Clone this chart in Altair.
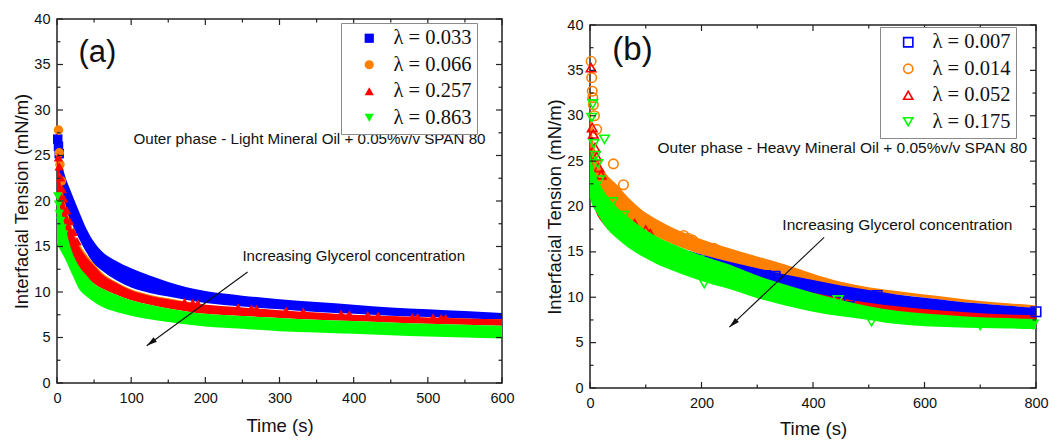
import altair as alt
import pandas as pd

SANS = "Liberation Sans"
SERIF = "Liberation Serif"

# ---------------- shared axis ticks ----------------
Y_MAJOR = [0, 5, 10, 15, 20, 25, 30, 35, 40]
Y_MINOR = [2.5, 7.5, 12.5, 17.5, 22.5, 27.5, 32.5, 37.5]

# ---------------- Panel (a): light mineral oil ----------------
A_LABELS = ["λ = 0.033", "λ = 0.066", "λ = 0.257", "λ = 0.863"]
A_COLORS = ["#0000ff", "#ff8000", "#ff0000", "#00ff00"]
A_SHAPES = ["square", "circle", "triangle-up", "triangle-down"]
A_X_MAJOR = [0, 100, 200, 300, 400, 500, 600]
A_X_MINOR = [50, 150, 250, 350, 450, 550]

A_T = [0, 5, 10, 20, 30, 40, 50, 60, 80, 100, 125, 150, 200, 250, 300, 350, 400, 450, 500, 550, 600]
A_BLUE_HI = [26.5, 24.5, 23.0, 20.8, 18.8, 16.9, 15.5, 14.5, 13.4, 12.6, 11.8, 11.1, 10.1, 9.6, 9.2, 8.9, 8.6, 8.3, 8.1, 7.9, 7.7]
A_BLUE_LO = [22.5, 21.0, 19.5, 17.5, 15.8, 14.3, 13.1, 12.4, 11.3, 10.5, 9.9, 9.5, 8.8, 8.4, 8.1, 7.8, 7.6, 7.4, 7.25, 7.1, 7.0]
A_ORANGE_HI = [25.3, 22.2, 20.2, 17.2, 15.3, 14.1, 13.1, 12.2, 11.1, 10.3, 9.7, 9.3, 8.6, 8.25, 7.95, 7.7, 7.45, 7.3, 7.15, 7.05, 6.95]
A_ORANGE_LO = [21.0, 19.0, 17.0, 14.5, 13.0, 12.0, 11.3, 10.8, 10.1, 9.5, 9.0, 8.6, 8.0, 7.7, 7.5, 7.3, 7.15, 7.0, 6.85, 6.75, 6.65]
A_RED_HI = [25.5, 21.8, 19.8, 16.8, 15.0, 13.8, 12.9, 12.0, 11.0, 10.2, 9.6, 9.2, 8.6, 8.3, 8.0, 7.75, 7.5, 7.35, 7.2, 7.1, 7.0]
A_RED_LO = [20.0, 18.5, 16.5, 14.0, 12.5, 11.6, 10.9, 10.4, 9.7, 9.1, 8.6, 8.2, 7.6, 7.35, 7.15, 6.95, 6.8, 6.65, 6.5, 6.4, 6.3]
A_GREEN_HI = [20.8, 19.0, 17.5, 14.5, 12.8, 11.8, 10.9, 10.4, 9.7, 9.1, 8.6, 8.2, 7.6, 7.35, 7.15, 6.95, 6.8, 6.65, 6.5, 6.4, 6.3]
A_GREEN_LO = [15.3, 14.5, 13.8, 12.0, 10.3, 9.5, 8.9, 8.4, 7.8, 7.4, 7.0, 6.7, 6.2, 5.95, 5.7, 5.55, 5.4, 5.25, 5.1, 5.0, 4.9]

# individual markers visible outside the dense bands
A_BLUE_PT_T = [1, 2, 3]
A_BLUE_PT_Y = [26.8, 26.0, 25.2]
A_ORANGE_PT_T = [2, 3, 4, 6]
A_ORANGE_PT_Y = [27.8, 25.3, 24.0, 22.2]
A_RED_PT_T = [2, 3, 5, 7, 9, 13, 17, 22, 27, 172, 183, 190, 244, 262, 269, 309, 332, 383, 394, 419, 433, 479, 486, 507, 518, 524]
A_RED_PT_Y = [24.8, 23.8, 22.6, 21.3, 20.3, 19.0, 17.8, 16.6, 15.6, 8.9, 8.8, 8.75, 8.3, 8.2, 8.15, 7.95, 7.85, 7.6, 7.55, 7.45, 7.4, 7.25, 7.25, 7.2, 7.15, 7.15]
A_GREEN_PT_T = [1, 2, 3, 5, 7, 9]
A_GREEN_PT_Y = [20.5, 19.6, 18.6, 17.8, 17.0, 16.3]

A_TEXT_X = [29, 103, 250]
A_TEXT_Y = [36.3, 26.8, 14.0]
A_TEXT = ["(a)", "Outer phase - Light Mineral Oil + 0.05%v/v SPAN 80", "Increasing Glycerol concentration"]
A_ARROW = {"x1": [257], "y1": [12.2], "x2": [121], "y2": [4.1]}
A_ARROW_ANGLE = 234

# ---------------- Panel (b): heavy mineral oil ----------------
B_LABELS = ["λ = 0.007", "λ = 0.014", "λ = 0.052", "λ = 0.175"]
B_COLORS = ["#0000ff", "#ff8000", "#ff0000", "#00ff00"]
B_SHAPES = ["square", "circle", "triangle-up", "triangle-down"]
B_X_MAJOR = [0, 200, 400, 600, 800]
B_X_MINOR = [100, 300, 500, 700]

B_T = [0, 5, 10, 25, 50, 75, 100, 125, 150, 200, 250, 300, 350, 400, 450, 500, 550, 600, 650, 700, 750, 800]
B_ORANGE_HI = [30.0, 27.5, 26.0, 24.0, 22.3, 20.6, 19.3, 18.4, 17.6, 16.4, 15.4, 14.5, 13.6, 12.6, 11.7, 11.1, 10.7, 10.3, 9.95, 9.6, 9.35, 9.1]
B_ORANGE_LO = [24.0, 23.0, 22.0, 20.5, 19.0, 18.0, 17.3, 16.5, 15.8, 14.7, 13.8, 13.0, 12.4, 11.8, 11.2, 10.7, 10.3, 9.95, 9.6, 9.3, 9.05, 8.8]
B_BLUE_HI = [26.0, 24.0, 22.8, 21.0, 19.3, 18.1, 17.2, 16.4, 15.7, 14.7, 13.9, 13.2, 12.5, 11.9, 11.3, 10.8, 10.3, 9.95, 9.6, 9.3, 9.05, 8.85]
B_BLUE_LO = [22.5, 21.0, 19.8, 18.3, 17.0, 16.0, 15.2, 14.6, 14.0, 13.2, 12.5, 11.9, 11.2, 10.5, 9.9, 9.4, 9.0, 8.7, 8.45, 8.25, 8.1, 8.0]
B_RED_HI = [27.0, 24.5, 23.0, 21.0, 19.0, 17.8, 16.9, 16.1, 15.4, 14.3, 13.4, 12.6, 11.9, 11.2, 10.5, 9.9, 9.4, 9.0, 8.75, 8.5, 8.35, 8.2]
B_RED_LO = [21.5, 20.5, 19.5, 18.0, 16.5, 15.4, 14.6, 13.9, 13.3, 12.4, 11.6, 10.9, 10.2, 9.5, 8.9, 8.5, 8.1, 7.9, 7.7, 7.6, 7.5, 7.4]
B_GREEN_HI = [26.0, 24.5, 23.5, 21.7, 19.8, 18.5, 17.4, 16.5, 15.8, 14.6, 13.6, 12.4, 11.4, 10.5, 9.7, 9.0, 8.5, 8.2, 8.0, 7.8, 7.7, 7.6]
B_GREEN_LO = [21.0, 20.0, 19.5, 18.0, 16.4, 15.2, 14.3, 13.5, 12.9, 11.8, 10.9, 9.9, 9.1, 8.4, 7.9, 7.5, 7.05, 6.8, 6.7, 6.6, 6.55, 6.5]

B_BLUE_PT_T = [315, 332, 465, 515, 800]
B_BLUE_PT_Y = [12.4, 12.3, 10.0, 10.2, 8.4]
B_ORANGE_PT_T = [2, 3, 4, 5, 6, 8, 12, 42, 60, 80, 100, 168, 176, 184, 222, 228, 252, 276, 282, 300, 312, 366, 378, 390]
B_ORANGE_PT_Y = [36.0, 34.2, 32.7, 32.0, 31.2, 30.0, 28.5, 24.7, 22.4, 19.3, 18.6, 16.8, 16.5, 16.3, 15.4, 15.2, 14.6, 14.1, 14.0, 13.6, 13.3, 12.4, 12.2, 12.1]
B_RED_PT_T = [2, 4, 6, 9, 12, 16, 20, 80, 100, 108]
B_RED_PT_Y = [35.3, 28.7, 28.0, 26.5, 25.5, 24.3, 23.5, 18.1, 17.4, 17.0]
B_GREEN_PT_T = [3, 5, 7, 10, 14, 17, 26, 40, 60, 195, 200, 205, 445, 505, 700, 795]
B_GREEN_PT_Y = [29.8, 31.3, 26.9, 25.6, 24.7, 22.9, 27.4, 20.5, 19.0, 14.1, 13.8, 11.5, 9.7, 7.3, 6.9, 7.0]

B_TEXT_X = [40, 121, 345]
B_TEXT_Y = [37.2, 26.4, 18.0]
B_TEXT = ["(b)", "Outer phase - Heavy Mineral Oil + 0.05%v/v SPAN 80", "Increasing Glycerol concentration"]
B_ARROW = {"x1": [420], "y1": [16.6], "x2": [250], "y2": [6.7]}
B_ARROW_ANGLE = 226.5

ARROW_PATH = "M0,0L-0.55,2L0.55,2Z"


def make_panel(W, H, xmax, xmajor, xminor, t, bands, points, labels, colors, shapes,
               order, filled, texts, text_sizes, arrow, arrow_angle, legend_xy, x_title_pad):
    xs = alt.Scale(domain=[0, xmax], nice=False, zero=False)
    ys = alt.Scale(domain=[0, 40], nice=False, zero=False)
    xaxis = alt.Axis(values=xmajor, title="Time (s)", labelFlush=False, labelOverlap=False,
                     ticks=False, tickSize=0, domain=False, grid=False,
                     labelPadding=8, titlePadding=x_title_pad)
    yaxis = alt.Axis(values=Y_MAJOR, title="Interfacial Tension (mN/m)", labelFlush=False,
                     labelOverlap=False, ticks=False, tickSize=0, domain=False, grid=False,
                     labelPadding=7, titlePadding=2)

    def X(f):
        return alt.X(f, type="quantitative", scale=xs, axis=xaxis)

    def Y(f):
        return alt.Y(f, type="quantitative", scale=ys, axis=yaxis)

    legend = alt.Legend(orient="none", legendX=legend_xy[0], legendY=legend_xy[1], title=None,
                        labelFont=SERIF, labelFontSize=20.5, labelColor="#111",
                        symbolSize=85, symbolStrokeWidth=1.6, symbolOffset=13, labelOffset=14,
                        padding=5, rowPadding=5.5, strokeColor="#8a8a8a", fillColor="white",
                        labelLimit=200)
    color = alt.Color("series:N", scale=alt.Scale(domain=labels, range=colors), legend=legend)
    shape = alt.Shape("series:N", scale=alt.Scale(domain=labels, range=shapes), legend=legend)

    layers = []
    for i in order:
        lo, hi = bands[i]
        df = pd.DataFrame({"t": t, "lo": lo, "hi": hi})
        layers.append(
            alt.Chart(df).mark_area(color=colors[i], opacity=1, interpolate="monotone")
            .encode(x=X("t"), y=Y("lo"), y2=alt.Y2("hi"))
        )
        pt_t, pt_y = points[i]
        pdf = pd.DataFrame({"t": pt_t, "y": pt_y, "series": [labels[i]] * len(pt_t)})
        if filled:
            pm = alt.Chart(pdf).mark_point(filled=True, size=90, opacity=1)
        else:
            pm = alt.Chart(pdf).mark_point(filled=False, size=90, strokeWidth=1.6, opacity=1)
        layers.append(pm.encode(x=X("t"), y=Y("y"), color=color, shape=shape))

    # annotation texts
    for (tx, ty, tl), fs in zip(texts, text_sizes):
        tdf = pd.DataFrame({"x": [tx], "y": [ty], "label": [tl]})
        layers.append(
            alt.Chart(tdf).mark_text(align="left", baseline="middle", font=SANS,
                                     fontSize=fs, color="#111")
            .encode(x=X("x"), y=Y("y"), text="label:N")
        )

    # arrow
    adf = pd.DataFrame(arrow)
    layers.append(
        alt.Chart(adf).mark_rule(color="#111", strokeWidth=1.1)
        .encode(x=X("x1"), y=Y("y1"), x2=alt.X2("x2"), y2=alt.Y2("y2"))
    )
    layers.append(
        alt.Chart(adf).mark_point(shape=ARROW_PATH, filled=True, color="#111", opacity=1,
                                  size=110, angle=arrow_angle)
        .encode(x=X("x2"), y=Y("y2"))
    )

    # inward ticks on all four sides
    def yticks(vals, ln):
        df = pd.DataFrame({"v": vals})
        base = alt.Chart(df).mark_rule(color="#222", strokeWidth=1.2)
        return [base.encode(y=Y("v"), x=alt.value(0), x2=alt.value(ln)),
                base.encode(y=Y("v"), x=alt.value(W), x2=alt.value(W - ln))]

    def xticks(vals, ln):
        df = pd.DataFrame({"v": vals})
        base = alt.Chart(df).mark_rule(color="#222", strokeWidth=1.2)
        return [base.encode(x=X("v"), y=alt.value(H), y2=alt.value(H - ln)),
                base.encode(x=X("v"), y=alt.value(0), y2=alt.value(ln))]

    layers += yticks(Y_MAJOR, 6) + yticks(Y_MINOR, 3.5)
    layers += xticks(xmajor, 6) + xticks(xminor, 3.5)

    return alt.layer(*layers).properties(width=W, height=H)


panel_a = make_panel(
    445, 364, 600, A_X_MAJOR, A_X_MINOR, A_T,
    [(A_BLUE_LO, A_BLUE_HI), (A_ORANGE_LO, A_ORANGE_HI), (A_RED_LO, A_RED_HI), (A_GREEN_LO, A_GREEN_HI)],
    [(A_BLUE_PT_T, A_BLUE_PT_Y), (A_ORANGE_PT_T, A_ORANGE_PT_Y), (A_RED_PT_T, A_RED_PT_Y), (A_GREEN_PT_T, A_GREEN_PT_Y)],
    A_LABELS, A_COLORS, A_SHAPES, [0, 1, 2, 3], True,
    list(zip(A_TEXT_X, A_TEXT_Y, A_TEXT)), [31, 15.2, 15],
    A_ARROW, A_ARROW_ANGLE, (284, 4), 12,
)

panel_b = make_panel(
    446, 363, 800, B_X_MAJOR, B_X_MINOR, B_T,
    [(B_BLUE_LO, B_BLUE_HI), (B_ORANGE_LO, B_ORANGE_HI), (B_RED_LO, B_RED_HI), (B_GREEN_LO, B_GREEN_HI)],
    [(B_BLUE_PT_T, B_BLUE_PT_Y), (B_ORANGE_PT_T, B_ORANGE_PT_Y), (B_RED_PT_T, B_RED_PT_Y), (B_GREEN_PT_T, B_GREEN_PT_Y)],
    B_LABELS, B_COLORS, B_SHAPES, [1, 2, 0, 3], False,
    list(zip(B_TEXT_X, B_TEXT_Y, B_TEXT)), [33, 15.5, 15.5],
    B_ARROW, B_ARROW_ANGLE, (290, 8), 10,
)

# invisible spacer that lowers panel (b) a few pixels, as in the original figure
spacer = (
    alt.Chart(pd.DataFrame({"v": [0]}))
    .mark_rule(opacity=0, strokeWidth=0)
    .encode(x=alt.value(0), x2=alt.value(0), y=alt.value(0))
    .properties(width=446, height=6, view=alt.ViewBackground(strokeOpacity=0))
)
right = alt.vconcat(spacer, panel_b, spacing=0, bounds="flush")

chart = (
    alt.hconcat(panel_a, right, spacing=30)
    .resolve_scale(color="independent", shape="independent")
    .properties(padding={"left": 4, "top": 2, "right": 0, "bottom": 0})
    .configure_axis(labelFont=SANS, titleFont=SANS, labelFontSize=14.5, titleFontSize=18.5,
                    labelColor="#111", titleColor="#111", titleFontWeight="normal")
    .configure_view(stroke="#222", strokeWidth=1.5)
)

chart.save("out.html", embed_options={"renderer": "svg", "actions": False})
